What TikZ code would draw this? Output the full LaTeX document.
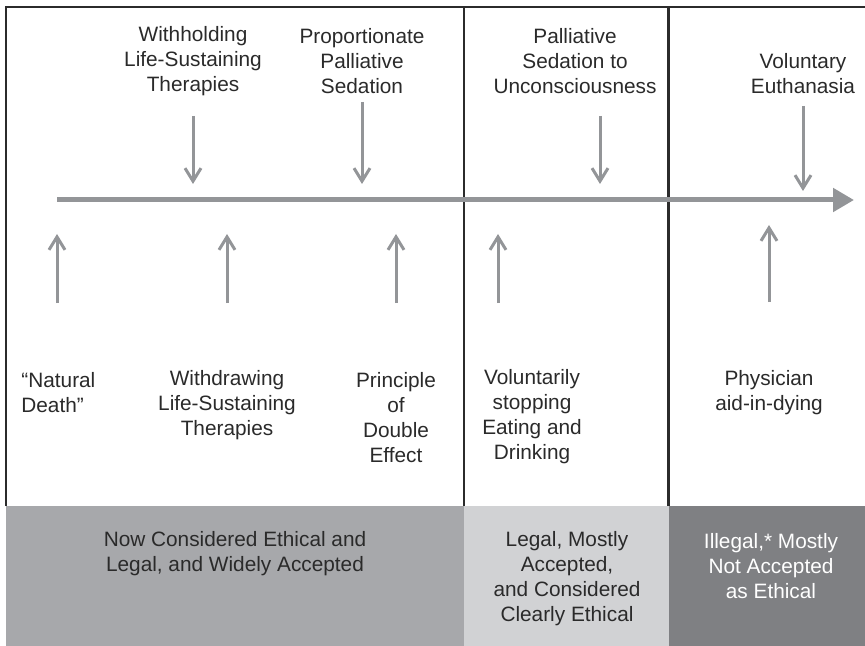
\documentclass[tikz,border=0pt]{standalone}
\usepackage{fontspec}
\setmainfont{Liberation Sans}
\usetikzlibrary{arrows.meta}
\definecolor{framec}{HTML}{2B2B2B}
\definecolor{arrc}{HTML}{939598}
\definecolor{txtc}{HTML}{2A2A2A}
\definecolor{boxa}{HTML}{A7A8AB}
\definecolor{boxb}{HTML}{D1D2D4}
\definecolor{boxc}{HTML}{7F8083}
\begin{document}
\begin{tikzpicture}[x=0.5pt,y=-0.5pt,
  lbl/.style={inner sep=0pt,align=center,text=txtc,font=\fontsize{10.4pt}{12.5pt}\selectfont},
  lblw/.style={lbl,text=white},
  framel/.style={draw=framec,line width=1.2pt},
  ptr/.style={draw=arrc,line width=1.5pt,-{Straight Barb[length=6.5pt,width=8pt]}},
  timeline/.style={draw=arrc,line width=2.5pt,-{Triangle[length=10.5pt,width=11.5pt]}}]
\useasboundingbox (0,0) rectangle (865,646);
% bottom category boxes
\fill[boxa] (6,506) rectangle (464,646);
\fill[boxb] (464,506) rectangle (668.5,646);
\fill[boxc] (668.5,506) rectangle (865,646);
% frame
\draw[framel] (6,506) -- (6,7) -- (865,7);
\draw[framel] (464,7) -- (464,506);
\draw[framel] (668.5,7) -- (668.5,506);
% timeline
\coordinate (ts) at (57,200);
\coordinate (te) at (854,200);
\draw[timeline] (ts) -- (te);
% top labels
\node[lbl] (wh) at (193,61) {Withholding\\Life-Sustaining\\Therapies};
\node[lbl] (pp) at (362,61) {Proportionate\\Palliative\\Sedation};
\node[lbl] (ps) at (575,61) {Palliative\\Sedation to\\Unconsciousness};
\node[lbl] (ve) at (803,74) {Voluntary\\Euthanasia};
% bottom labels
\node[lbl,align=left,anchor=west] (nd) at (21,392.5) {“Natural\\Death”};
\node[lbl] (wd) at (227,405) {Withdrawing\\Life-Sustaining\\Therapies};
\node[lbl] (pd) at (396,417.5) {Principle\\of\\Double\\Effect};
\node[lbl] (vs) at (532,417) {Voluntarily\\stopping\\Eating and\\Drinking};
\node[lbl] (pa) at (769,392.5) {Physician\\aid-in-dying};
% box labels
\node[lbl] (ca) at (235,553.5) {Now Considered Ethical and\\Legal, and Widely Accepted};
\node[lbl] (cb) at (567,579) {Legal, Mostly\\Accepted,\\and Considered\\Clearly Ethical};
\node[lblw] (cc) at (771,566) {Illegal,* Mostly\\Not Accepted\\as Ethical};
% down arrows
\coordinate (a1s) at (193,116); \coordinate (a1e) at (193,184);
\coordinate (a2s) at (362,102); \coordinate (a2e) at (362,184);
\coordinate (a3s) at (600,116); \coordinate (a3e) at (600,184);
\coordinate (a4s) at (803,106); \coordinate (a4e) at (803,191);
\draw[ptr] (a1s) -- (a1e);
\draw[ptr] (a2s) -- (a2e);
\draw[ptr] (a3s) -- (a3e);
\draw[ptr] (a4s) -- (a4e);
% up arrows
\coordinate (b1s) at (57,303); \coordinate (b1e) at (57,234);
\coordinate (b2s) at (227,303); \coordinate (b2e) at (227,234);
\coordinate (b3s) at (396,303); \coordinate (b3e) at (396,234);
\coordinate (b4s) at (498,303); \coordinate (b4e) at (498,234);
\coordinate (b5s) at (769,302); \coordinate (b5e) at (769,225);
\draw[ptr] (b1s) -- (b1e);
\draw[ptr] (b2s) -- (b2e);
\draw[ptr] (b3s) -- (b3e);
\draw[ptr] (b4s) -- (b4e);
\draw[ptr] (b5s) -- (b5e);
\end{tikzpicture}
\end{document}
